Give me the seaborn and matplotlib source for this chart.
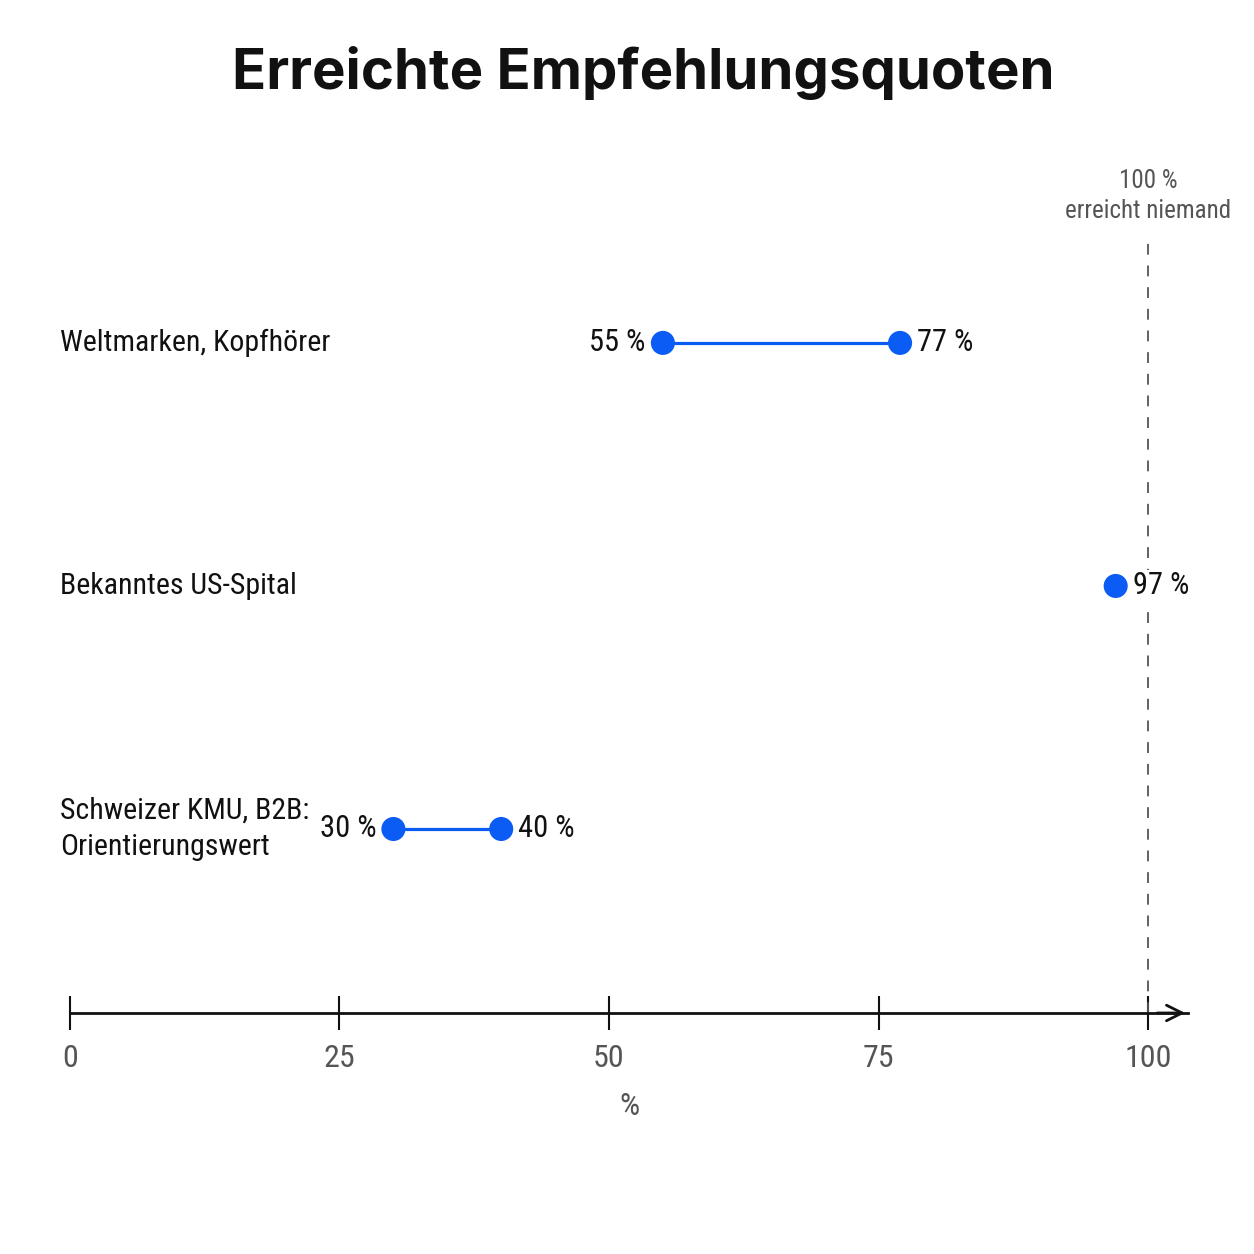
import pandas as pd
import matplotlib.pyplot as plt
import seaborn as sns
from matplotlib import font_manager

# data
categories = ['Weltmarken, Kopfhörer', 'Bekanntes US-Spital', 'Schweizer KMU, B2B:\nOrientierungswert']
low = [55, 97, 30]
high = [77, 97, 40]
ticks = [0, 25, 50, 75, 100]
ref_value = 100
ref_note = '100 %\nerreicht niemand'

blue = '#0a5cf5'
grey = '#555555'

# look for a narrow face, the reference uses a condensed grotesk
fonts = font_manager.fontManager.ttflist
names = {f.name for f in fonts}
narrow_family, stretch = 'DejaVu Sans', 'normal'
for cand in ['Roboto Condensed', 'Liberation Sans Narrow', 'Open Sans Condensed', 'Noto Sans Condensed']:
    if cand in names:
        narrow_family = cand
        break
else:
    for f in fonts:
        if 'condensed' in str(f.stretch) and f.name in ('DejaVu Sans', 'Noto Sans', 'Open Sans', 'Roboto'):
            narrow_family, stretch = f.name, 'condensed'
            break
title_family = 'Inter' if 'Inter' in names else 'DejaVu Sans'

sns.set_theme(style='white')
plt.rcParams['font.family'] = [narrow_family, 'DejaVu Sans']
plt.rcParams['font.stretch'] = stretch

df = pd.DataFrame({'cat': categories, 'low': low, 'high': high, 'row': range(len(categories))})
pts = pd.concat([
    df[['row', 'low']].rename(columns={'low': 'val'}),
    df[['row', 'high']].rename(columns={'high': 'val'}),
]).drop_duplicates()

fig = plt.figure(figsize=(12.54, 12.54), dpi=100)
ax = fig.add_axes([0.0558, 0.1922, 0.8915, 0.6204])

ax.hlines(df['row'], df['low'], df['high'], color=blue, lw=2.3, zorder=2)
sns.scatterplot(data=pts, x='val', y='row', ax=ax, color=blue, s=300,
                edgecolor='none', zorder=3, legend=False)

for _, r in df.iterrows():
    if r['low'] != r['high']:
        ax.text(r['low'] - 1.6, r['row'], f"{r['low']} %", ha='right', va='center',
                fontsize=22, color='#111111')
    ax.text(r['high'] + 1.6, r['row'], f"{r['high']} %", ha='left', va='center',
            fontsize=22, color='#111111', zorder=4,
            bbox=dict(boxstyle='square,pad=0.05', fc='white', ec='none'))
    ax.text(-0.009, r['row'], r['cat'], transform=ax.get_yaxis_transform(),
            ha='left', va='center', fontsize=21.5, color='#111111', linespacing=1.4)

ax.axvline(ref_value, color=grey, lw=1.3, ls=(0, (6, 6)), zorder=1)
ax.text(ref_value, 1.05, ref_note, transform=ax.get_xaxis_transform(), ha='center',
        va='center', fontsize=18, color=grey, linespacing=1.35)

ax.set_xlim(0, 103.7)
ax.set_ylim(2.757, -0.444)
ax.set_yticks([])
ax.set_ylabel('')
ax.set_xticks(ticks)
ax.set_xticklabels([str(t) for t in ticks], fontsize=23, color=grey)
ax.tick_params(axis='x', bottom=True, direction='inout', length=24, width=1.5,
               color='#111111', pad=10)
ax.set_xlabel('%', fontsize=23, color=grey, labelpad=14)

for s in ['left', 'top', 'right']:
    ax.spines[s].set_visible(False)
ax.spines['bottom'].set_color('#111111')
ax.spines['bottom'].set_linewidth(2)
ax.annotate('', xy=(1.0, 0), xytext=(0.97, 0), xycoords='axes fraction',
            arrowprops=dict(arrowstyle='->', lw=2, color='#111111', mutation_scale=28))

fig.suptitle('Erreichte Empfehlungsquoten', x=0.513, y=0.963, fontsize=40.5, fontweight='bold',
             family=[title_family, 'DejaVu Sans'], stretch='normal', color='#111111')

fig.savefig('out.png', dpi=100, facecolor='white')
